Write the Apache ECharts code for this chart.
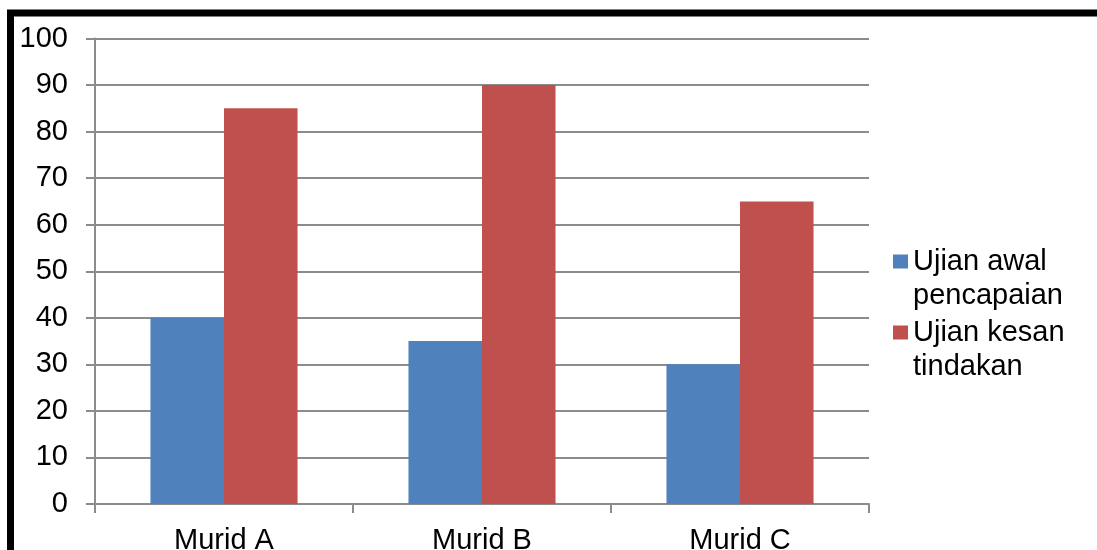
<!DOCTYPE html>
<html>
<head>
<meta charset="utf-8">
<script src="https://cdn.jsdelivr.net/npm/echarts@6/dist/echarts.min.js"></script>
<style>
html,body{margin:0;padding:0;background:#fff;}
#chart{width:1097px;height:550px;}
</style>
</head>
<body>
<div id="chart"></div>
<script>
const categories = ['Murid A', 'Murid B', 'Murid C'];
const seriesNames = ['Ujian awal pencapaian', 'Ujian kesan tindakan'];
const legendLabels = ['Ujian awal\npencapaian', 'Ujian kesan\ntindakan'];
const ujianAwal = [40, 35, 30];
const ujianKesan = [85, 90, 65];
const yTicks = { min: 0, max: 100, interval: 10 };

const FONT = "'Liberation Sans', Arial, sans-serif";
const GRAY = '#8c8c8c';

const chart = echarts.init(document.getElementById('chart'), null, { renderer: 'canvas' });

function legendFor(i, top) {
  return {
    data: [seriesNames[i]],
    orient: 'vertical',
    left: 893,
    top: top,
    padding: 0,
    itemWidth: 15,
    itemHeight: 14,
    itemGap: 0,
    icon: 'rect',
    selectedMode: false,
    // leading empty line keeps the first text line level with the icon
    formatter: function () { return '{e| }\n{t|' + legendLabels[i].split('\n').join('}\n{t|') + '}'; },
    textStyle: {
      fontFamily: FONT,
      fontSize: 29,
      color: '#000',
      lineHeight: 34,
      rich: {
        e: { fontSize: 29, lineHeight: 34 },
        t: { fontSize: 29, lineHeight: 34, color: '#000', fontFamily: FONT }
      }
    }
  };
}

chart.setOption({
  animation: false,
  backgroundColor: '#fff',
  textStyle: { fontFamily: FONT },
  graphic: [{
    type: 'rect',
    shape: { x: 10.5, y: 13, width: 1200, height: 1000 },
    style: { fill: 'none', stroke: '#000', lineWidth: 7 },
    silent: true,
    z: 100
  }],
  legend: [legendFor(0, 210.5), legendFor(1, 281.5)],
  grid: { left: 95, right: 228, top: 38.5, bottom: 46, containLabel: false, outerBoundsMode: 'none' },
  xAxis: {
    type: 'category',
    data: categories,
    axisLine: { show: true, lineStyle: { color: GRAY, width: 2 } },
    axisTick: { show: true, length: 9, inside: false, alignWithLabel: false, lineStyle: { color: GRAY, width: 2 } },
    axisLabel: { fontFamily: FONT, fontSize: 29, color: '#000', margin: 22 },
    splitLine: { show: false }
  },
  yAxis: {
    type: 'value',
    min: yTicks.min,
    max: yTicks.max,
    interval: yTicks.interval,
    axisLine: { show: true, lineStyle: { color: GRAY, width: 2 } },
    axisTick: { show: true, length: 9, inside: false, lineStyle: { color: GRAY, width: 2 } },
    axisLabel: { fontFamily: FONT, fontSize: 29, color: '#000', margin: 27 },
    splitLine: { show: true, lineStyle: { color: GRAY, width: 2 } }
  },
  series: [
    {
      name: seriesNames[0],
      type: 'bar',
      data: ujianAwal,
      barGap: '0%',
      barCategoryGap: '43%',
      itemStyle: { color: '#4F81BD' }
    },
    {
      name: seriesNames[1],
      type: 'bar',
      data: ujianKesan,
      barGap: '0%',
      barCategoryGap: '43%',
      itemStyle: { color: '#C0504D' }
    }
  ]
});
</script>
</body>
</html>
